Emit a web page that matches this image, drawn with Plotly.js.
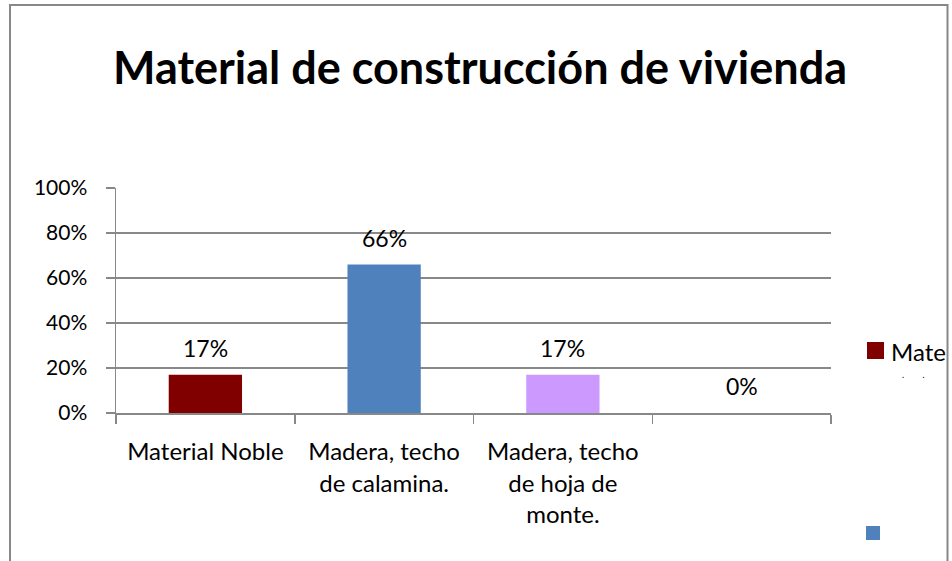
<!DOCTYPE html>
<html>
<head>
<meta charset="utf-8">
<script src="https://cdn.plot.ly/plotly-3.0.1.min.js"></script>
<style>
  html, body { margin: 0; padding: 0; background: #ffffff; }
  #chart { width: 952px; height: 561px; }
</style>
</head>
<body>
<div id="chart"></div>
<script>
// ---- data ----
const categories = ["Material Noble", "Madera, techo de calamina.", "Madera, techo de hoja de monte.", " "];
const tickLabels = ["Material Noble", "Madera, techo<br>de calamina.", "Madera, techo<br>de hoja de<br>monte.", ""];
const values = [0.17, 0.66, 0.17, 0];
const barColors = ["#800000", "#4F81BD", "#CC99FF", "#9BBB59"];
const titleText = "Material de construcción de vivienda";
const legendText = "Mate";
const legendDots = ".&nbsp;&nbsp;&nbsp;&nbsp;&nbsp;&nbsp;&nbsp;&nbsp;.";

// ---- layout helpers (pixel -> paper) ----
const W = 952, H = 561;
const M = { l: 116, r: 121, t: 188, b: 148 };
const pw = W - M.l - M.r, ph = H - M.t - M.b;
const px = x => (x - M.l) / pw;
const py = y => (H - M.b - y) / ph;

const FONT = "Lato, 'Open Sans', sans-serif";
const GRAY = "#888888";

const trace = {
  type: "bar",
  x: categories,
  y: values,
  marker: { color: barColors },
  hoverinfo: "none",
  showlegend: false
};

const labelAnnotations = categories.map((c, i) => ({
  x: c, y: values[i], xref: "x", yref: "y",
  text: Math.round(values[i] * 100) + "%",
  showarrow: false, yanchor: "bottom", yshift: 11,
  font: { family: FONT, size: 23, color: "#000000" }
}));

const layout = {
  width: W, height: H,
  margin: M,
  paper_bgcolor: "#ffffff",
  plot_bgcolor: "#ffffff",
  bargap: 0.59,
  title: {
    text: "<b>" + titleText + "</b>",
    font: { family: FONT, size: 45, color: "#000000" },
    xref: "container", x: 480 / W, xanchor: "center",
    yref: "container", y: 1 - 68 / H, yanchor: "middle"
  },
  xaxis: {
    type: "category",
    tickvals: categories,
    ticktext: tickLabels,
    tickson: "boundaries",
    ticks: "outside", ticklen: 9, tickcolor: GRAY, tickwidth: 1.5,
    ticklabelstandoff: 17,
    showline: true, linecolor: GRAY, linewidth: 1.5,
    showgrid: false, zeroline: false,
    tickfont: { family: FONT, size: 24, color: "#000000" },
    tickangle: 0
  },
  yaxis: {
    range: [0, 1], dtick: 0.2, tickformat: ".0%",
    ticks: "outside", ticklen: 9, tickcolor: GRAY, tickwidth: 1.5,
    ticklabelstandoff: 14,
    showline: true, linecolor: GRAY, linewidth: 1.5,
    showgrid: true, gridcolor: GRAY, gridwidth: 1.3,
    zeroline: false,
    tickfont: { family: FONT, size: 21, color: "#000000" }
  },
  shapes: [
    { type: "rect", xref: "paper", yref: "paper",
      x0: px(10), x1: px(947.5), y0: py(620), y1: py(5),
      line: { color: GRAY, width: 2 }, fillcolor: "rgba(0,0,0,0)" },
    { type: "rect", xref: "paper", yref: "paper",
      x0: px(867), x1: px(884), y0: py(359), y1: py(342),
      line: { width: 0 }, fillcolor: barColors[0] },
    { type: "rect", xref: "paper", yref: "paper",
      x0: px(866), x1: px(880), y0: py(540), y1: py(526),
      line: { width: 0 }, fillcolor: barColors[1] }
  ],
  annotations: labelAnnotations.concat([
    { xref: "paper", yref: "paper", x: px(889), y: py(351),
      xanchor: "left", yanchor: "middle", showarrow: false,
      text: legendText, font: { family: FONT, size: 24, color: "#000000" } },
    { xref: "paper", yref: "paper", x: px(913), y: py(368),
      xanchor: "center", yanchor: "top", showarrow: false, borderpad: 0,
      text: legendDots, font: { family: FONT, size: 9, color: "#000000" } }
  ])
};

Plotly.newPlot("chart", [trace], layout, { displayModeBar: false, staticPlot: true });
</script>
</body>
</html>
